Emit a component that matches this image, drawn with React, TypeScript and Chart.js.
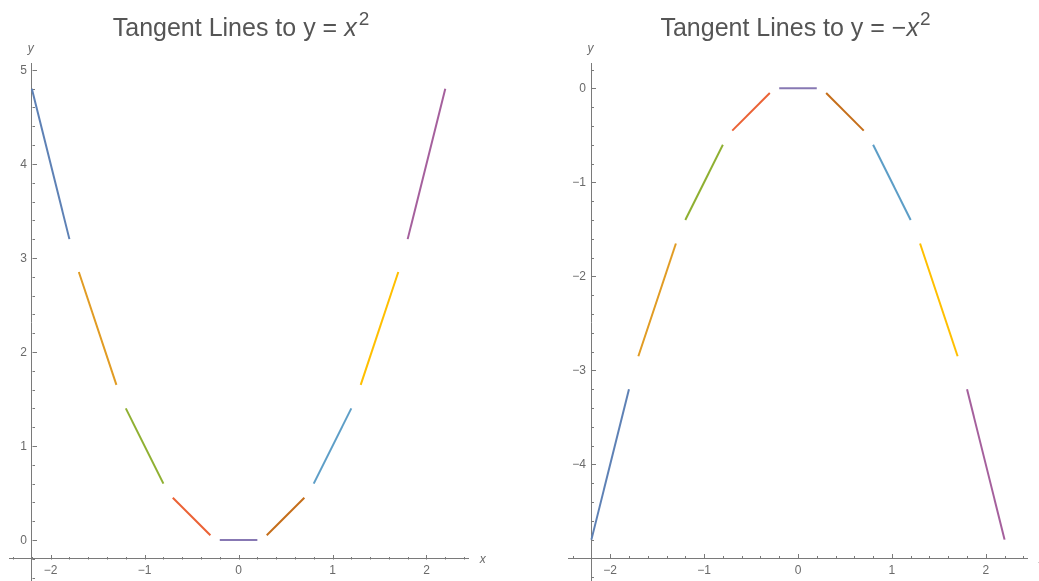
import React, { useEffect, useRef } from "react";
import { Chart, registerables } from "chart.js";

Chart.register(...registerables);

// Points of tangency
const tangentPoints = [-2, -1.5, -1, -0.5, 0, 0.5, 1, 1.5, 2];
// Segment endpoints (x)
const segStartX = [-2.2, -1.7, -1.2, -0.7, -0.2, 0.3, 0.8, 1.3, 1.8];
const segEndX = [-1.8, -1.3, -0.8, -0.3, 0.2, 0.7, 1.2, 1.7, 2.2];
// y = x^2 tangent segments
const upStartY = [4.8, 2.85, 1.4, 0.45, 0, 0.05, 0.6, 1.65, 3.2];
const upEndY = [3.2, 1.65, 0.6, 0.05, 0, 0.45, 1.4, 2.85, 4.8];
// y = -x^2 tangent segments
const downStartY = [-4.8, -2.85, -1.4, -0.45, 0, -0.05, -0.6, -1.65, -3.2];
const downEndY = [-3.2, -1.65, -0.6, -0.05, 0, -0.45, -1.4, -2.85, -4.8];

const segColors = [
  "#5E81B5",
  "#E19C24",
  "#8FB032",
  "#EB6235",
  "#8778B3",
  "#C56E1A",
  "#5D9EC7",
  "#FFBF00",
  "#A5609D",
];

// Labelled tick values
const xTickValues = [-2, -1, 0, 1, 2];
const upYTickValues = [0, 1, 2, 3, 4, 5];
const downYTickValues = [-4, -3, -2, -1, 0];

const AXIS_COLOR = "#7a7a7a";
const LABEL_COLOR = "#6a6a6a";
const TITLE_COLOR = "#555555";
const FONT = '"Liberation Sans", Arial, sans-serif';

const fmt = (v: number) => (v < 0 ? "\u2212" + Math.abs(v) : String(v));

const axisTicksPlugin = {
  id: "axisTicks",
  beforeDatasetsDraw(chart: any) {
    const cfg = chart.options.plugins.axisTicks;
    if (!cfg) return;
    const { ctx } = chart;
    const xs = chart.scales.x;
    const ys = chart.scales.y;
    const xAxisPix = Math.round(ys.getPixelForValue(cfg.xAxisAt)) + 0.5;
    const yAxisPix = Math.round(xs.getPixelForValue(cfg.yAxisAt)) + 0.5;
    ctx.save();
    ctx.strokeStyle = AXIS_COLOR;
    ctx.lineWidth = 1;
    const step = 0.2;
    for (let k = Math.ceil(xs.min / step - 1e-9); k * step <= xs.max + 1e-9; k++) {
      const major = k % 5 === 0;
      const len = major ? 4.5 : 2.5;
      const px = Math.round(xs.getPixelForValue(k * step)) + 0.5;
      ctx.beginPath();
      ctx.moveTo(px, xAxisPix);
      ctx.lineTo(px, xAxisPix - len);
      ctx.stroke();
    }
    for (let k = Math.ceil(ys.min / step - 1e-9); k * step <= ys.max + 1e-9; k++) {
      const major = k % 5 === 0;
      const len = major ? 4.5 : 2.5;
      const py = Math.round(ys.getPixelForValue(k * step)) + 0.5;
      ctx.beginPath();
      ctx.moveTo(yAxisPix, py);
      ctx.lineTo(yAxisPix + len, py);
      ctx.stroke();
    }
    // y tick labels (left of the axis line)
    ctx.fillStyle = LABEL_COLOR;
    ctx.font = "12px " + FONT;
    ctx.textAlign = "right";
    ctx.textBaseline = "middle";
    (cfg.yTicks as number[]).forEach((v) => {
      ctx.fillText(fmt(v), yAxisPix - 5.5, ys.getPixelForValue(v) + 0.5);
    });
    ctx.restore();
  },
  afterDraw(chart: any) {
    const cfg = chart.options.plugins.axisTicks;
    if (!cfg) return;
    const { ctx, chartArea } = chart;
    const xs = chart.scales.x;
    const ys = chart.scales.y;
    const xAxisPix = ys.getPixelForValue(cfg.xAxisAt);
    const yAxisPix = xs.getPixelForValue(cfg.yAxisAt);
    ctx.save();
    ctx.fillStyle = LABEL_COLOR;
    ctx.font = "italic 12px " + FONT;
    ctx.textAlign = "center";
    ctx.textBaseline = "middle";
    ctx.fillText("y", yAxisPix - 1, chartArea.top - 15);
    ctx.textAlign = "left";
    ctx.fillText("x", chartArea.right + 11.5, xAxisPix + 1);
    ctx.restore();
  },
};

type PanelCfg = {
  startY: number[];
  endY: number[];
  yTicks: number[];
  xMin: number;
  xMax: number;
  yMin: number;
  yMax: number;
  xAxisAt: number;
  yAxisAt: number;
  padding: { left: number; right: number; top: number; bottom: number };
};

const zeroFit = (scale: any) => {
  if (scale.isHorizontal()) scale.height = 0;
  else scale.width = 0;
  scale.paddingLeft = 0;
  scale.paddingRight = 0;
  scale.paddingTop = 0;
  scale.paddingBottom = 0;
};

function buildConfig(p: PanelCfg): any {
  const datasets = tangentPoints.map((t, i) => ({
    label: "x = " + t,
    data: [
      { x: segStartX[i], y: p.startY[i] },
      { x: segEndX[i], y: p.endY[i] },
    ],
    showLine: true,
    borderColor: segColors[i],
    backgroundColor: segColors[i],
    borderWidth: 2,
    pointRadius: 0,
    pointHoverRadius: 0,
    fill: false,
    tension: 0,
  }));
  return {
    type: "scatter",
    data: { datasets },
    plugins: [axisTicksPlugin],
    options: {
      animation: false,
      responsive: false,
      maintainAspectRatio: false,
      devicePixelRatio: 1,
      layout: { padding: p.padding },
      plugins: {
        legend: { display: false },
        title: { display: false },
        tooltip: { enabled: false },
        axisTicks: { xAxisAt: p.xAxisAt, yAxisAt: p.yAxisAt, yTicks: p.yTicks },
      },
      scales: {
        x: {
          type: "linear",
          min: p.xMin,
          max: p.xMax,
          position: { y: p.xAxisAt },
          grid: { display: false, drawTicks: false },
          border: { display: true, color: AXIS_COLOR, width: 1 },
          afterBuildTicks: (scale: any) => {
            scale.ticks = xTickValues.map((v) => ({ value: v }));
          },
          afterFit: zeroFit,
          ticks: {
            autoSkip: false,
            maxRotation: 0,
            padding: 5,
            color: LABEL_COLOR,
            font: { family: FONT, size: 12 },
            callback: (v: any) => fmt(Number(v)),
          },
        },
        y: {
          type: "linear",
          min: p.yMin,
          max: p.yMax,
          position: { x: p.yAxisAt },
          grid: { display: false, drawTicks: false },
          border: { display: true, color: AXIS_COLOR, width: 1 },
          afterBuildTicks: (scale: any) => {
            scale.ticks = p.yTicks.map((v) => ({ value: v }));
          },
          afterFit: zeroFit,
          ticks: { display: false },
        },
      },
    },
  };
}

function Panel({ left, width, cfg }: { left: number; width: number; cfg: PanelCfg }) {
  const ref = useRef<HTMLCanvasElement>(null);
  useEffect(() => {
    const chart = new Chart(ref.current as HTMLCanvasElement, buildConfig(cfg));
    return () => chart.destroy();
  }, []);
  return (
    <canvas
      ref={ref}
      width={width}
      height={581}
      style={{ position: "absolute", left, top: 0, width, height: 581 }}
    />
  );
}

function Title({ cx, minus }: { cx: number; minus: boolean }) {
  return (
    <div
      style={{
        position: "absolute",
        left: cx - 200,
        width: 400,
        top: 14.5,
        textAlign: "center",
        font: "25px " + FONT,
        lineHeight: "25px",
        color: TITLE_COLOR,
        whiteSpace: "nowrap",
      }}
    >
      {"Tangent Lines to y = " + (minus ? "\u2212" : "")}
      <i>x</i>
      <span style={{ fontSize: 19, position: "relative", top: -11, marginLeft: minus ? 1 : 2 }}>2</span>
    </div>
  );
}

const leftCfg: PanelCfg = {
  startY: upStartY,
  endY: upEndY,
  yTicks: upYTickValues,
  xMin: -2.44,
  xMax: 2.445,
  yMin: -0.436,
  yMax: 5.07,
  xAxisAt: -0.2,
  yAxisAt: -2.2,
  padding: { left: 9.3, right: 51.7, top: 63.3, bottom: 0 },
};

const rightCfg: PanelCfg = {
  startY: downStartY,
  endY: downEndY,
  yTicks: downYTickValues,
  xMin: -2.446,
  xMax: 2.442,
  yMin: -5.24,
  yMax: 0.266,
  xAxisAt: -5.0,
  yAxisAt: -2.2,
  padding: { left: 48.3, right: 11.7, top: 63.3, bottom: 0 },
};

export default function App() {
  return (
    <div
      style={{
        position: "fixed",
        left: 0,
        top: 0,
        width: 1039,
        height: 581,
        background: "#ffffff",
        overflow: "hidden",
      }}
    >
      <Panel left={0} width={520} cfg={leftCfg} />
      <Panel left={520} width={519} cfg={rightCfg} />
      <Title cx={241} minus={false} />
      <Title cx={795.5} minus={true} />
    </div>
  );
}
